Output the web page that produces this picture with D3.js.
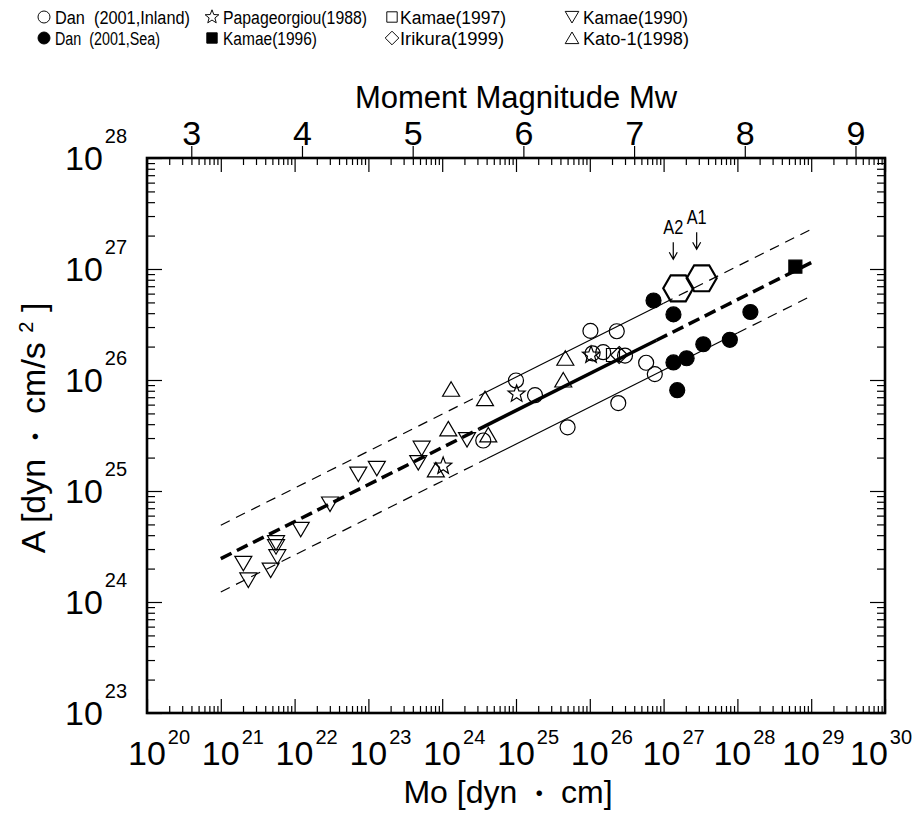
<!DOCTYPE html>
<html lang="en">
<head>
<meta charset="utf-8"/>
<title>A vs Mo</title>
<script src="https://d3js.org/d3.v7.min.js"></script>
<style>
  body { margin: 0; background: #fff; }
  svg text { font-family: "Liberation Sans", Arial, sans-serif; fill: #000; }
  .jp { font-family: "Noto Sans CJK JP", sans-serif; }
</style>
</head>
<body>
<script>
// values (Mo in dyn*cm, A in dyn*cm/s^2)
var inlandMo = [3.6e24, 1.0e25, 1.81e25, 5.0e25, 1.02e26, 1.09e26, 1.52e26, 2.32e26, 3.0e26, 5.8e26, 7.6e26, 2.43e26];
var inlandA  = [2.85e25, 9.9e25, 7.3e25, 3.75e25, 2.77e26, 1.74e26, 1.78e26, 2.75e26, 1.66e26, 1.43e26, 1.13e26, 6.2e25];

var seaMo = [7.3e26, 1.36e27, 1.5e28, 7.9e27, 3.45e27, 2.05e27, 1.36e27, 1.53e27];
var seaA  = [5.2e26, 3.9e26, 4.1e26, 2.3e26, 2.1e26, 1.57e26, 1.44e26, 8.1e25];

var papaMo = [1.03e24, 1.02e25, 1.04e26];
var papaA  = [1.68e25, 7.5e25, 1.68e26];

var kamae96Mo = [6.1e28];
var kamae96A  = [1.05e27];

var kamae97Mo = [2.06e26];
var kamae97A  = [1.68e26];

var irikuraMo = [2.5e26];
var irikuraA  = [1.68e26];

var kamae90Mo = [2.02e21, 2.36e21, 4.74e21, 5.83e21, 5.6e21, 5.6e21, 1.21e22, 3.02e22, 7.3e22, 1.3e23, 5.27e23, 4.74e23, 2.17e24];
var kamae90A  = [2.23e24, 1.58e24, 1.94e24, 2.56e24, 3.15e24, 3.42e24, 4.52e24, 7.64e24, 1.42e25, 1.6e25, 2.43e25, 1.8e25, 2.9e25];

var katoMo = [1.32e24, 3.8e24, 4.66e25, 4.37e25, 1.21e24, 4.21e24, 8.2e23];
var katoA  = [8.25e25, 6.8e25, 1.57e26, 1.0e26, 3.63e25, 3.2e25, 1.55e25];

var asperityNames = ["A2", "A1"];
var asperityMo = [1.58e27, 3.28e27];
var asperityA  = [6.7e26, 8.25e26];

// relation lines, as break points along each line
var meanMo  = [1e21, 3.2e24, 8e26, 1e29];
var meanA   = [2.46e24, 3.63e25, 2.28e26, 1.14e27];
var meanDash = [true, false, true];
var upperMo = [1e21, 3.2e24, 1e27, 1e29];
var upperA  = [4.92e24, 7.26e25, 4.92e26, 2.28e27];
var upperDash = [true, false, true];
var lowerMo = [1e21, 4e24, 1e28, 1e29];
var lowerA  = [1.23e24, 1.95e25, 2.65e26, 5.71e26];
var lowerDash = [true, false, true];

var xExponents = d3.range(20, 31);
var yExponents = d3.range(23, 29);
var mwTicks = [3, 4, 5, 6, 7, 8, 9];

// -----------------------------------------------------------
var w = 916, h = 814;
var svg = d3.select("body").append("svg").attr("width", w).attr("height", h);
svg.append("rect").attr("width", w).attr("height", h).attr("fill", "#fff");

var x = d3.scaleLog().domain([1e20, 1e30]).range([147, 885]);
var y = d3.scaleLog().domain([1e23, 1e28]).range([713, 158]);
// Mw = (log10 Mo - 16.1) / 1.5
var mw = d3.scaleLinear().domain([(20 - 16.1) / 1.5, (30 - 16.1) / 1.5]).range([147, 885]);

function minorTicks(lo, hi) {
  var v = [];
  for (var e = lo; e < hi; e++) for (var k = 2; k <= 9; k++) v.push(k * Math.pow(10, e));
  return v;
}
var xMinor = minorTicks(20, 30), yMinor = minorTicks(23, 28);
var xMajor = xExponents.map(function(e) { return Math.pow(10, e); });
var yMajor = yExponents.map(function(e) { return Math.pow(10, e); });

function tickAxis(axis, scale, vals, size, tr) {
  var g = svg.append("g").attr("transform", tr)
    .call(axis(scale).tickValues(vals).tickSizeInner(-size).tickSizeOuter(0).tickFormat(""));
  g.select(".domain").remove();
  g.selectAll("line").attr("stroke", "#000").attr("stroke-width", 1.2);
  return g;
}
tickAxis(d3.axisBottom, x, xMinor, 7, "translate(0,713)");
tickAxis(d3.axisBottom, x, xMajor, 14, "translate(0,713)");
tickAxis(d3.axisTop, x, xMinor, 7, "translate(0,158)");
tickAxis(d3.axisTop, x, xMajor, 14, "translate(0,158)");
tickAxis(d3.axisLeft, y, yMinor, 8, "translate(147,0)");
tickAxis(d3.axisLeft, y, yMajor, 15, "translate(147,0)");
tickAxis(d3.axisRight, y, yMinor, 8, "translate(885,0)");
tickAxis(d3.axisRight, y, yMajor, 15, "translate(885,0)");

// Mw ticks on top, pointing outward
var mwAxis = svg.append("g").attr("transform", "translate(0,158)")
  .call(d3.axisTop(mw).tickValues(mwTicks).tickFormat(d3.format("d"))
    .tickSizeInner(12).tickSizeOuter(0).tickPadding(1));
mwAxis.select(".domain").remove();
mwAxis.selectAll("line").attr("stroke", "#000").attr("stroke-width", 1.2);
mwAxis.selectAll("text").style("font-size", "34px").attr("fill", "#000");

// frame
svg.append("rect").attr("x", 147).attr("y", 158).attr("width", 738).attr("height", 555)
  .attr("fill", "none").attr("stroke", "#000").attr("stroke-width", 2.6);

// bottom tick labels 10^n
var xLabOffset = [0, 0, 0, 0, 0, 0, 0, -2, -5, -10, -16];
var xl = svg.append("g").selectAll("text").data(xExponents).enter().append("text")
  .attr("x", function(d, i) { return x(Math.pow(10, d)) + xLabOffset[i] - 19; })
  .attr("y", 765).style("font-size", "34px");
xl.append("tspan").text("10");
xl.append("tspan").attr("dx", 2).attr("dy", -21).style("font-size", "20px").text(function(d) { return d; });

// left tick labels
var yl = svg.append("g").selectAll("text").data(yExponents).enter().append("text")
  .attr("x", 65).attr("y", function(d) { return y(Math.pow(10, d)) + 12; })
  .style("font-size", "34px");
yl.append("tspan").text("10");
yl.append("tspan").attr("dx", 2).attr("dy", -27).style("font-size", "20px").text(function(d) { return d; });

// axis titles
svg.append("text").attr("x", 516).attr("y", 108).attr("text-anchor", "middle")
  .style("font-size", "31px").text("Moment Magnitude Mw");

var xt = svg.append("text").attr("x", 508).attr("y", 803).attr("text-anchor", "middle")
  .style("font-size", "32px").style("white-space", "pre");
xt.append("tspan").text("Mo [dyn ");
xt.append("tspan").attr("class", "jp").style("font-size", "26px").text("・");
xt.append("tspan").text(" cm]");

var yt = svg.append("text").attr("transform", "translate(45,428) rotate(-90)")
  .attr("text-anchor", "middle").style("font-size", "34px").style("white-space", "pre");
yt.append("tspan").text("A [dyn ");
yt.append("tspan").attr("class", "jp").style("font-size", "26px").text("・");
yt.append("tspan").text(" cm/s ");
yt.append("tspan").attr("dy", -12).style("font-size", "20px").text("2");
yt.append("tspan").attr("dy", 12).text(" ]");

// relation lines
function drawLine(mos, as, dashFlags, width, dash) {
  for (var i = 0; i < mos.length - 1; i++) {
    svg.append("line")
      .attr("x1", x(mos[i])).attr("y1", y(as[i]))
      .attr("x2", x(mos[i + 1])).attr("y2", y(as[i + 1]))
      .attr("stroke", "#000").attr("stroke-width", width)
      .attr("stroke-dasharray", dashFlags[i] ? dash : null);
  }
}
drawLine(upperMo, upperA, upperDash, 1.2, "10,7");
drawLine(lowerMo, lowerA, lowerDash, 1.2, "10,7");
drawLine(meanMo, meanA, meanDash, 3.5, "12,6");

// marker shapes
function shape(kind) {
  var p = d3.path();
  if (kind === "triUp") { p.moveTo(0, -7.5); p.lineTo(8.5, 7); p.lineTo(-8.5, 7); p.closePath(); }
  else if (kind === "triDown") { p.moveTo(-8.5, -7); p.lineTo(8.5, -7); p.lineTo(0, 7.5); p.closePath(); }
  else if (kind === "diamond") { p.moveTo(0, -8.5); p.lineTo(8.5, 0); p.lineTo(0, 8.5); p.lineTo(-8.5, 0); p.closePath(); }
  else if (kind === "square" || kind === "fsquare") { p.rect(-6.5, -6.5, 13, 13); }
  else if (kind === "star") {
    for (var k = 0; k < 10; k++) {
      var r = k % 2 ? 3.8 : 9, a = -Math.PI / 2 + k * Math.PI / 5;
      if (k === 0) p.moveTo(r * Math.cos(a), r * Math.sin(a)); else p.lineTo(r * Math.cos(a), r * Math.sin(a));
    }
    p.closePath();
  }
  else if (kind === "hex") {
    for (var j = 0; j < 6; j++) {
      var b = j * Math.PI / 3;
      if (j === 0) p.moveTo(15 * Math.cos(b), 15 * Math.sin(b)); else p.lineTo(15 * Math.cos(b), 15 * Math.sin(b));
    }
    p.closePath();
  }
  else { p.arc(0, 0, 7.5, 0, 2 * Math.PI); p.closePath(); }
  return p.toString();
}
var filledKinds = { fcircle: 1, fsquare: 1 };

function plotSeries(mos, as, kind, sw) {
  svg.append("g").selectAll("path").data(mos).enter().append("path")
    .attr("transform", function(d, i) { return "translate(" + x(d) + "," + y(as[i]) + ")"; })
    .attr("d", shape(kind))
    .attr("fill", filledKinds[kind] ? "#000" : "none")
    .attr("stroke", "#000").attr("stroke-width", sw || 1.2);
}
plotSeries(kamae90Mo, kamae90A, "triDown");
plotSeries(katoMo, katoA, "triUp");
plotSeries(inlandMo, inlandA, "circle");
plotSeries(papaMo, papaA, "star");
plotSeries(kamae97Mo, kamae97A, "square");
plotSeries(irikuraMo, irikuraA, "diamond");
plotSeries(seaMo, seaA, "fcircle");
plotSeries(kamae96Mo, kamae96A, "fsquare");
plotSeries(asperityMo, asperityA, "hex", 2.2);

// A1 / A2 labels with arrows
asperityNames.forEach(function(nm, i) {
  var cx = x(asperityMo[i]) - 5, cy = y(asperityA[i]);
  svg.append("text").attr("x", cx).attr("y", cy - 54)
    .attr("text-anchor", "middle").attr("textLength", 20).attr("lengthAdjust", "spacingAndGlyphs")
    .style("font-size", "20px").text(nm);
  var p = d3.path();
  p.moveTo(cx, cy - 46); p.lineTo(cx, cy - 29);
  p.moveTo(cx - 4, cy - 36); p.lineTo(cx, cy - 29); p.lineTo(cx + 4, cy - 36);
  svg.append("path").attr("d", p.toString()).attr("fill", "none").attr("stroke", "#000").attr("stroke-width", 1.2);
});

// legend
var legNames = ["Dan  (2001,Inland)", "Papageorgiou(1988)", "Kamae(1997)", "Kamae(1990)",
                "Dan  (2001,Sea)", "Kamae(1996)", "Irikura(1999)", "Kato-1(1998)"];
var legKinds = ["circle", "star", "square", "triDown", "fcircle", "fsquare", "diamond", "triUp"];
var legWidths = [135, 144, 106, 105, 105, 94, 104, 106];
var legCols = [44, 212, 392, 572];
var legRows = [17, 38];

var leg = svg.append("g").selectAll("g").data(legNames).enter().append("g")
  .attr("transform", function(d, i) { return "translate(" + legCols[i % 4] + "," + legRows[Math.floor(i / 4)] + ")"; });
leg.append("path")
  .attr("d", function(d, i) { return shape(legKinds[i]); })
  .attr("transform", "scale(0.8)")
  .attr("fill", function(d, i) { return filledKinds[legKinds[i]] ? "#000" : "none"; })
  .attr("stroke", "#000").attr("stroke-width", 1.2);
leg.append("text")
  .attr("x", function(d, i) { return legKinds[i] === "square" || legKinds[i] === "diamond" ? 8 : 11; })
  .attr("y", 7)
  .attr("textLength", function(d, i) { return legWidths[i]; })
  .attr("lengthAdjust", "spacingAndGlyphs")
  .style("font-size", "18px").style("white-space", "pre")
  .text(function(d) { return d; });
</script>
</body>
</html>
